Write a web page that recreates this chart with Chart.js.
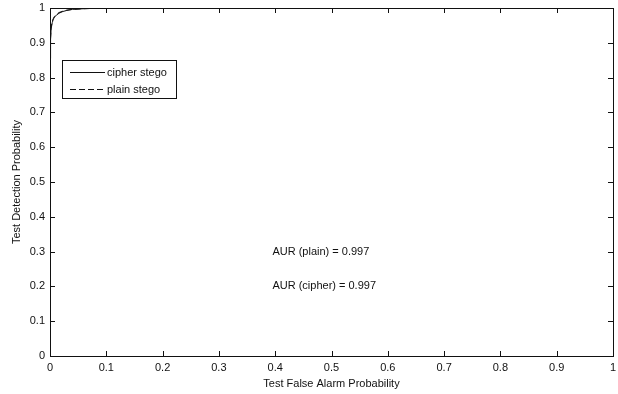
<!DOCTYPE html>
<html>
<head>
<meta charset="utf-8">
<script src="https://cdn.jsdelivr.net/npm/chart.js@4"></script>
<style>
  html, body { margin: 0; padding: 0; background: #fff; }
  #wrap { width: 618px; height: 394px; position: relative; }
</style>
</head>
<body>
<div id="wrap"><canvas id="roc"></canvas></div>
<script>
// ROC curve readings (false alarm prob. vs detection prob.)
const cipherFpr = [0, 0.001, 0.002, 0.004, 0.006, 0.008, 0.012, 0.016, 0.023, 0.03, 0.04, 0.06, 0.08, 0.1, 0.12];
const cipherTpr = [0.855, 0.91, 0.94, 0.958, 0.968, 0.974, 0.98, 0.985, 0.99, 0.993, 0.996, 0.998, 0.999, 0.999, 1.0];
const plainFpr = [0, 0.001, 0.002, 0.004, 0.006, 0.008, 0.012, 0.016, 0.023, 0.03, 0.04, 0.06, 0.08, 0.1, 0.11];
const plainTpr = [0.86, 0.915, 0.945, 0.962, 0.97, 0.976, 0.982, 0.987, 0.991, 0.994, 0.996, 0.998, 0.999, 1.0, 1.0];
const seriesLabels = ["cipher stego", "plain stego"];
const notes = ["AUR (plain) = 0.997", "AUR (cipher) = 0.997"];
const noteX = [0.395, 0.395];
const noteY = [0.3, 0.2];

const FONT = "'Liberation Sans', Arial, sans-serif";
const ctx = document.getElementById("roc").getContext("2d");

function toPoints(xs, ys) {
  return xs.map((x, i) => ({ x: x, y: ys[i] }));
}

// matlab style tick text: 0, 0.1, ..., 1
function tickText(v) {
  return String(Math.round(v * 10) / 10);
}

// box with inward ticks on all four sides, like the original plot
const boxPlugin = {
  id: "box",
  afterDraw(chart) {
    const c = chart.ctx;
    const a = chart.chartArea;
    const xs = chart.scales.x, ys = chart.scales.y;
    c.save();
    c.strokeStyle = "#111";
    c.lineWidth = 1;
    c.strokeRect(Math.round(a.left) + 0.5, Math.round(a.top) + 0.5,
      Math.round(a.right - a.left), Math.round(a.bottom - a.top));
    c.beginPath();
    xs.ticks.forEach(t => {
      const px = Math.round(xs.getPixelForValue(t.value)) + 0.5;
      c.moveTo(px, a.bottom); c.lineTo(px, a.bottom - 5);
      c.moveTo(px, a.top); c.lineTo(px, a.top + 5);
    });
    ys.ticks.forEach(t => {
      const py = Math.round(ys.getPixelForValue(t.value)) + 0.5;
      c.moveTo(a.left, py); c.lineTo(a.left + 5, py);
      c.moveTo(a.right, py); c.lineTo(a.right - 5, py);
    });
    c.stroke();

    // annotations
    c.fillStyle = "#111";
    c.font = "11px " + FONT;
    c.textBaseline = "middle";
    c.textAlign = "left";
    notes.forEach((n, i) => {
      c.fillText(n, xs.getPixelForValue(noteX[i]), ys.getPixelForValue(noteY[i]));
    });

    // legend box
    const lx = 62, ly = 60, lw = 114, lh = 38;
    c.fillStyle = "#fff";
    c.fillRect(lx, ly, lw, lh);
    c.strokeRect(lx + 0.5, ly + 0.5, lw, lh);
    chart.data.datasets.forEach((ds, i) => {
      const y = ly + 12 + i * 17 + 0.5;
      c.beginPath();
      c.setLineDash(ds.borderDash || []);
      c.moveTo(70, y); c.lineTo(105, y);
      c.stroke();
      c.setLineDash([]);
      c.fillStyle = "#111";
      c.fillText(ds.label, 107, y);
    });
    c.restore();
  }
};

new Chart(ctx, {
  type: "line",
  data: {
    datasets: [
      {
        label: seriesLabels[0],
        data: toPoints(cipherFpr, cipherTpr),
        borderColor: "#111",
        borderWidth: 1,
        pointRadius: 0,
        fill: false,
        tension: 0
      },
      {
        label: seriesLabels[1],
        data: toPoints(plainFpr, plainTpr),
        borderColor: "#111",
        borderWidth: 1,
        borderDash: [6, 3],
        pointRadius: 0,
        fill: false,
        tension: 0
      }
    ]
  },
  options: {
    responsive: true,
    maintainAspectRatio: false,
    animation: false,
    layout: { padding: { top: 8, right: 5, left: 0, bottom: 0 } },
    plugins: {
      legend: { display: false },
      tooltip: { enabled: false }
    },
    scales: {
      x: {
        type: "linear",
        min: 0,
        max: 1,
        grid: { display: false, drawTicks: false },
        border: { display: false },
        ticks: { stepSize: 0.1, padding: 5, color: "#111", font: { family: FONT, size: 11 },
          maxRotation: 0, callback: tickText },
        title: { display: true, text: "Test False Alarm Probability", color: "#111",
          font: { family: FONT, size: 11 }, padding: { top: 0, bottom: 3 } },
        afterFit(s) { s.height = 38; s.paddingLeft = 0; s.paddingRight = 0; }
      },
      y: {
        type: "linear",
        min: 0,
        max: 1,
        grid: { display: false, drawTicks: false },
        border: { display: false },
        ticks: { stepSize: 0.1, padding: 5, color: "#111", font: { family: FONT, size: 11 },
          callback: tickText },
        title: { display: true, text: "Test Detection Probability", color: "#111",
          font: { family: FONT, size: 11 }, padding: { top: 10, bottom: 0 } },
        afterFit(s) { s.width = 50; s.paddingTop = 0; s.paddingBottom = 0; }
      }
    }
  },
  plugins: [boxPlugin]
});
</script>
</body>
</html>
